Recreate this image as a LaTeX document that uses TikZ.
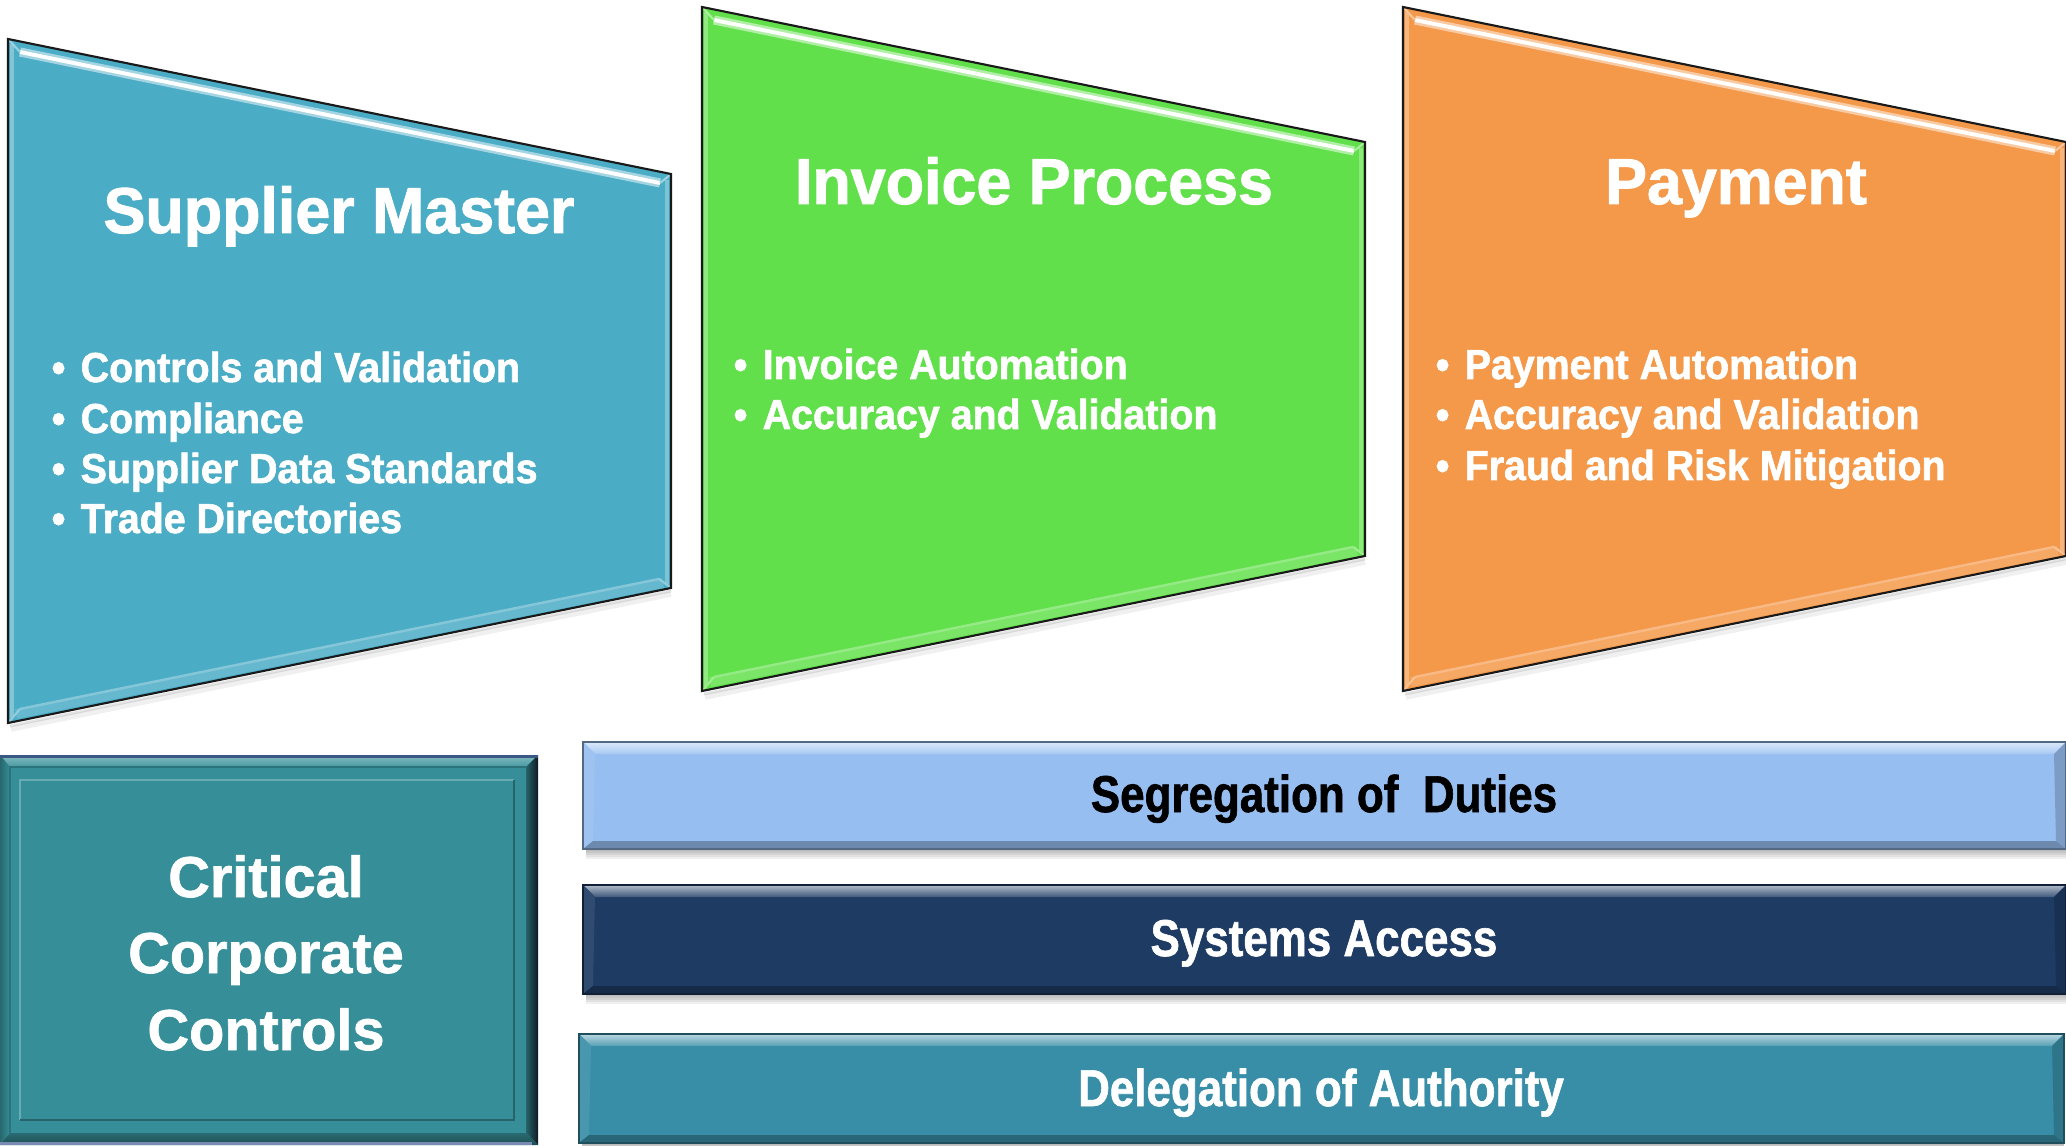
\documentclass[tikz,border=0pt]{standalone}
\usepackage{fontspec}
\setmainfont{Liberation Sans}
\newfontfamily\titlefont{Liberation Sans}[FakeStretch=0.97, BoldFeatures={FakeBold=1.5}]
\newfontfamily\itemfont{Liberation Sans}[FakeStretch=0.94, BoldFeatures={FakeBold=1.5}]
\newfontfamily\critfont{Liberation Sans}[BoldFeatures={FakeBold=1.2}]
\newfontfamily\narrowbold{Liberation Sans}[FakeStretch=0.85, BoldFeatures={FakeBold=1.2}]

\definecolor{supplierc}{HTML}{4BACC6}
\definecolor{invoicec}{HTML}{62E04B}
\definecolor{paymentc}{HTML}{F4984A}
\definecolor{criticalc}{HTML}{368F98}
\definecolor{critnavy}{HTML}{3B5884}
\definecolor{critlav}{HTML}{7A8BB3}
\definecolor{critdark}{HTML}{0F1A24}
\definecolor{segc}{HTML}{97BEF0}
\definecolor{sysc}{HTML}{1E3B64}
\definecolor{delc}{HTML}{388EA7}

\tikzset{
  paneltitle/.style={text=white, inner sep=0, anchor=base,
    font=\titlefont\bfseries\fontsize{18.4}{22}\selectfont},
  bulletitem/.style={text=white, inner sep=0, anchor=base west,
    font=\itemfont\bfseries\fontsize{11.9}{14}\selectfont},
  crittext/.style={text=white, inner sep=0, anchor=base,
    font=\critfont\bfseries\fontsize{16.4}{20}\selectfont},
  bartext/.style={inner sep=0, anchor=base,
    font=\narrowbold\bfseries\fontsize{14.7}{17}\selectfont},
}

% bevelled trapezoid panel: fill colour, left x, top y
\newcommand\stagepanel[3]{%
  \begin{scope}[shift={(#2,#3)}]
    % soft shadow under the lower edge
    \draw[black, opacity=0.06, line width=1.6pt] (3,690) -- (663,555);
    \draw[black, opacity=0.10, line width=0.8pt] (2,687) -- (663,552);
    \fill[#1] (0,0) -- (663,135) -- (663,549) -- (0,684) -- cycle;
    % side bevels
    \draw[#1!70!white, line width=0.9pt] (4,5) -- (4,679);
    \draw[#1!72!white, line width=1.2pt] (659,141) -- (659,545);
    % lower bevel
    \draw[#1!85!white, line width=2.8pt] (8,675) -- (655,544);
    \draw[#1!68!white, line width=0.7pt] (12,670) -- (651,540);
    \draw[#1!60!white, line width=0.6pt] (1,683) -- (12,670);
    \draw[#1!60!white, line width=0.6pt] (662,548) -- (651,540);
    % upper highlight
    \draw[#1!50!white, line width=2.6pt] (12,13) -- (652,144);
    \draw[white, line width=1.1pt] (12,13) -- (652,144);
    \draw[#1!55!white, line width=0.6pt] (1,1) -- (12,13);
    \draw[#1!55!white, line width=0.6pt] (662,136) -- (652,144);
    % outline
    \draw[black!90, line width=0.6pt] (0,0) -- (663,135) -- (663,549) -- (0,684) -- cycle;
  \end{scope}}

% bevelled horizontal bar: colour, x1, y1, x2, y2
\newcommand\controlbar[5]{%
  \foreach \s in {2,4,6,8,10}
    \fill[black, opacity=0.06] (#2+3,#5) rectangle (#4,#5+\s);
  \fill[#1] (#2,#3) rectangle (#4,#5);
  \shade[top color=#1!35!white, bottom color=#1!85!white]
    (#2,#3) -- (#4,#3) -- (#4-12,#3+12) -- (#2+12,#3+12) -- cycle;
  \fill[#1!92!white] (#2,#3) -- (#2+12,#3+12) -- (#2+10,#5-8) -- (#2,#5) -- cycle;
  \fill[#1!82!black] (#4,#3) -- (#4,#5) -- (#4-10,#5-8) -- (#4-12,#3+12) -- cycle;
  \fill[#1!72!black] (#2,#5) -- (#4,#5) -- (#4-10,#5-8) -- (#2+10,#5-8) -- cycle;
  \draw[#1!55!black, line width=0.4pt] (#2,#3) rectangle (#4,#5);
}

\begin{document}
\begin{tikzpicture}[x=0.01cm, y=-0.01cm]
  \useasboundingbox[fill=white] (0,0) rectangle (2066,1146);

  % three process panels
  \stagepanel{supplierc}{8}{39}
  \stagepanel{invoicec}{702}{7}
  \stagepanel{paymentc}{1403}{7}

  \node[paneltitle] (smtitle) at (339,233) {Supplier Master};
  \node[bulletitem] (sm1) at (51,382) {\makebox[0.29cm][l]{•}Controls and Validation};
  \node[bulletitem] (sm2) at (51,433) {\makebox[0.29cm][l]{•}Compliance};
  \node[bulletitem] (sm3) at (51,483) {\makebox[0.29cm][l]{•}Supplier Data Standards};
  \node[bulletitem] (sm4) at (51,533) {\makebox[0.29cm][l]{•}Trade Directories};

  \node[paneltitle] (iptitle) at (1034,204) {Invoice Process};
  \node[bulletitem] (ip1) at (733,379) {\makebox[0.29cm][l]{•}Invoice Automation};
  \node[bulletitem] (ip2) at (733,429) {\makebox[0.29cm][l]{•}Accuracy and Validation};

  \node[paneltitle] (pytitle) at (1736,204) {Payment};
  \node[bulletitem] (py1) at (1435,379) {\makebox[0.29cm][l]{•}Payment Automation};
  \node[bulletitem] (py2) at (1435,429) {\makebox[0.29cm][l]{•}Accuracy and Validation};
  \node[bulletitem] (py3) at (1435,480) {\makebox[0.29cm][l]{•}Fraud and Risk Mitigation};

  % critical corporate controls block with raised frame
  \fill[criticalc] (0,755) rectangle (538,1145);
  \shade[top color=criticalc!60!white, bottom color=criticalc!92!white]
    (0,755) -- (538,755) -- (526,767) -- (10,767) -- cycle;
  \shade[left color=criticalc!72!black, right color=criticalc]
    (0,755) -- (10,767) -- (10,1133) -- (0,1145) -- cycle;
  \shade[left color=criticalc!70!black, right color=critdark]
    (538,755) -- (538,1145) -- (526,1133) -- (526,767) -- cycle;
  \shade[top color=criticalc!75!black, bottom color=criticalc!55!black]
    (0,1145) -- (538,1145) -- (526,1133) -- (10,1133) -- cycle;
  \draw[critnavy, line width=1pt] (0,756.5) -- (538,756.5);
  \draw[critlav, line width=1pt] (0,1143.5) -- (532,1143.5);
  \draw[criticalc!75!white, line width=0.8pt] (20,1120) |- (514,780);
  \draw[criticalc!70!black, line width=0.8pt] (20,1120) -| (514,780);
  \draw[criticalc!80!black, line width=0.5pt] (10,1133) |- (526,767);
  \node[crittext] (cc1) at (266,897) {Critical};
  \node[crittext] (cc2) at (266,973) {Corporate};
  \node[crittext] (cc3) at (266,1050) {Controls};

  % control bars
  \controlbar{segc}{583}{742}{2066}{849}
  \controlbar{sysc}{583}{885}{2066}{994}
  \controlbar{delc}{579}{1034}{2064}{1143}
  \node[bartext, text=black] (seg) at (1324,812) {Segregation of\ \ Duties};
  \node[bartext, text=white] (sys) at (1324,956) {Systems Access};
  \node[bartext, text=white] (del) at (1321,1106) {Delegation of Authority};
\end{tikzpicture}
\end{document}
